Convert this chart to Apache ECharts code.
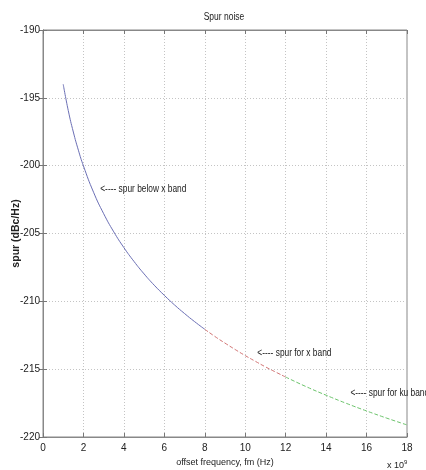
<!DOCTYPE html>
<html>
<head>
<meta charset="utf-8">
<script src="https://cdn.jsdelivr.net/npm/echarts@6/dist/echarts.min.js"></script>
<style>
html,body{margin:0;padding:0;background:#fff;}
#chart{width:426px;height:470px;}
</style>
</head>
<body>
<div id="chart"></div>
<script>
// Data
const belowXBand = [[1,-194.0],[1.25,-195.94],[1.5,-197.52],[1.75,-198.86],[2,-200.02],[2.5,-201.96],[3,-203.54],[3.5,-204.88],[4,-206.04],[4.5,-207.06],[5,-207.98],[5.5,-208.81],[6,-209.56],[6.5,-210.26],[7,-210.9],[7.5,-211.5],[8,-212.06]];
const forXBand = [[8,-212.06],[8.5,-212.59],[9,-213.08],[9.5,-213.55],[10,-214.0],[10.5,-214.42],[11,-214.83],[11.5,-215.21],[12,-215.58]];
const forKuBand = [[12,-215.58],[13,-216.28],[14,-216.92],[15,-217.52],[16,-218.08],[17,-218.61],[18,-219.11]];
const annotations = [
  {text:'<---- spur below x band', x:2.83, y:-201.7},
  {text:'<---- spur for x band', x:10.6, y:-213.8},
  {text:'<---- spur for ku band', x:15.2, y:-216.75}
];
const xTicks = [0,2,4,6,8,10,12,14,16,18];
const yTicks = [-220,-215,-210,-205,-200,-195,-190];

const FONT = '"Liberation Sans",Arial,sans-serif';
const chart = echarts.init(document.getElementById('chart'));
const gridLine = {show:true, lineStyle:{color:'#c4c4c4', type:[1,2], width:1}};
const tick = {show:true, inside:true, length:4, lineStyle:{color:'#777'}};
const axisLine = {show:true, lineStyle:{color:'#888', width:1}};
const lbl = {color:'#222', fontSize:10, fontFamily:FONT};

chart.setOption({
  animation:false,
  backgroundColor:'#fff',
  grid:{left:43, right:19, top:30, bottom:33, outerBoundsMode:'none', containLabel:false, show:true, borderColor:'#888', borderWidth:1},
  xAxis:[{
    type:'value', min:xTicks[0], max:xTicks[xTicks.length-1], interval:2,
    axisLine:axisLine, axisTick:tick, splitLine:gridLine,
    axisLabel:Object.assign({margin:6}, lbl),
    name:'offset frequency, fm (Hz)', nameLocation:'middle', nameGap:21, nameMoveOverlap:false,
    nameTextStyle:{fontSize:9, color:'#222', fontFamily:FONT}
  },{
    type:'value', position:'top', min:xTicks[0], max:xTicks[xTicks.length-1], interval:2,
    axisLine:axisLine, axisTick:tick, splitLine:{show:false}, axisLabel:{show:false}
  }],
  yAxis:[{
    type:'value', min:yTicks[0], max:yTicks[yTicks.length-1], interval:5,
    axisLine:axisLine, axisTick:tick, splitLine:gridLine,
    axisLabel:Object.assign({margin:3}, lbl),
    name:'spur (dBc/Hz)', nameLocation:'middle', nameGap:21, nameMoveOverlap:false,
    nameTextStyle:{fontSize:10.5, color:'#222', fontWeight:'bold', fontFamily:FONT}
  },{
    type:'value', position:'right', min:yTicks[0], max:yTicks[yTicks.length-1], interval:5,
    axisLine:axisLine, axisTick:tick, splitLine:{show:false}, axisLabel:{show:false}
  }],
  series:[
    {type:'line', data:belowXBand, smooth:true, showSymbol:false, symbol:'none', lineStyle:{color:'#6b6fb5', width:1}},
    {type:'line', data:forXBand, smooth:true, showSymbol:false, symbol:'none', lineStyle:{color:'#d27474', width:1, type:[4,2]}},
    {type:'line', data:forKuBand, smooth:true, showSymbol:false, symbol:'none', lineStyle:{color:'#6cc46c', width:1, type:[4,2]}}
  ]
});

const graphics = annotations.map(a => {
  const p = chart.convertToPixel({gridIndex:0}, [a.x, a.y]);
  return {type:'text', x:p[0], y:p[1], scaleX:0.76, z:100,
    style:{text:a.text, fontSize:11, fill:'#222', fontFamily:FONT, verticalAlign:'middle'}};
});
graphics.push({
  type:'text', x:224, y:17, scaleX:0.85, z:100,
  style:{text:'Spur noise', fontSize:10, fill:'#222', fontFamily:FONT, align:'center', verticalAlign:'middle'}
});
graphics.push({
  type:'text', x:387, y:459,
  style:{text:'x 10{s|9}', rich:{s:{fontSize:6, verticalAlign:'top', padding:[0,0,7,0]}}, fontSize:9, fill:'#222', fontFamily:FONT}
});
chart.setOption({graphic:graphics});
</script>
</body>
</html>
